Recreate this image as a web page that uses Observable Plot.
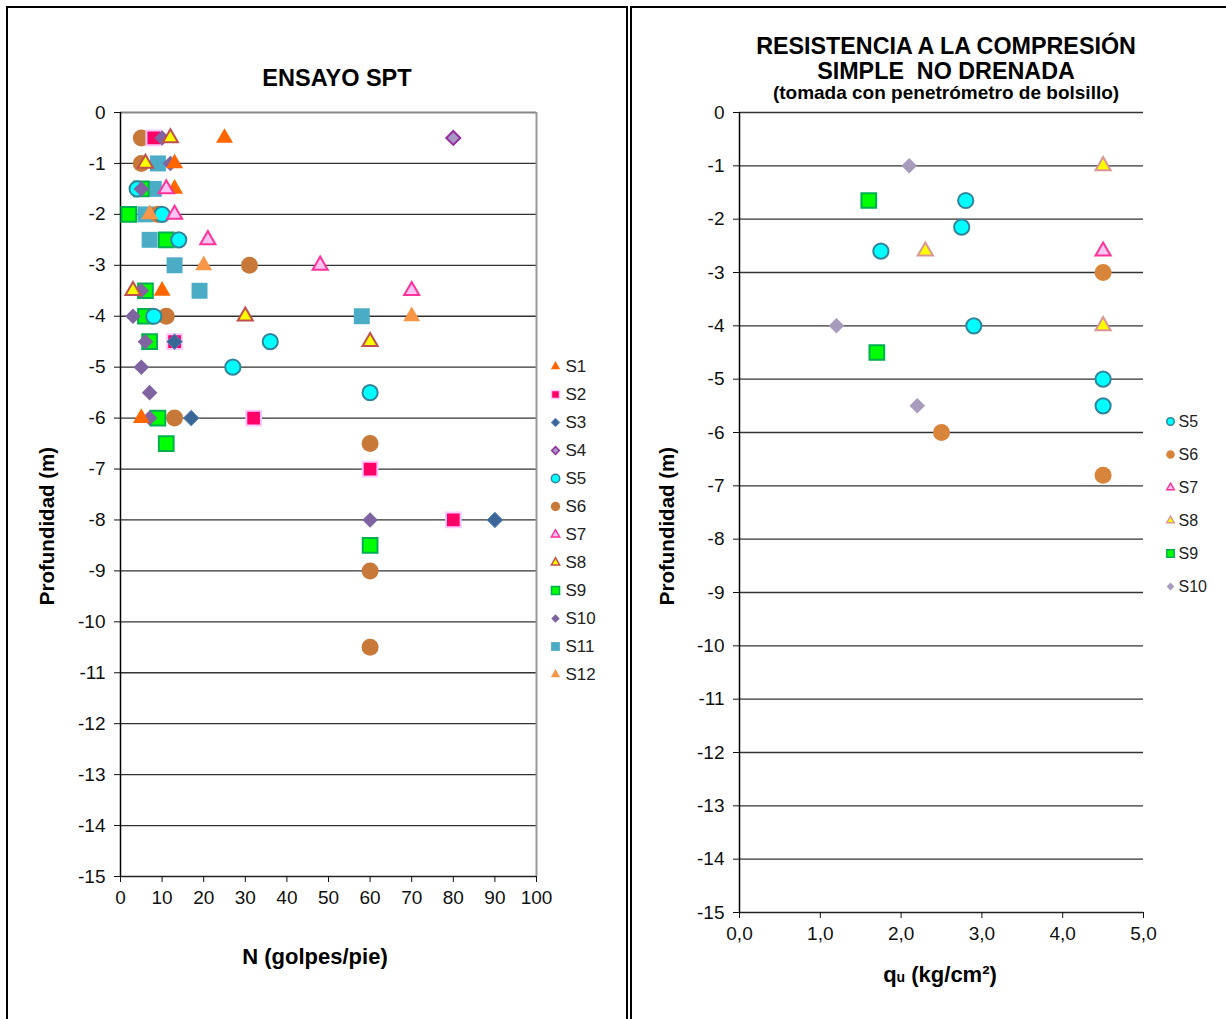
<!DOCTYPE html>
<html><head><meta charset="utf-8">
<script src="https://cdn.jsdelivr.net/npm/d3@7"></script>
<script src="https://cdn.jsdelivr.net/npm/@observablehq/plot@0.6"></script>
<style>
html,body{margin:0;padding:0;background:#fff;overflow:hidden;}
#page{position:relative;width:1226px;height:1019px;overflow:hidden;font-family:"Liberation Sans",Arial,sans-serif;color:#000;background:#fff;}
.box{position:absolute;border:2px solid #000;box-sizing:border-box;}
.t{position:absolute;font-weight:bold;text-align:center;white-space:pre;}
.holder{position:absolute;left:0;top:0;}
.holder svg{max-width:none !important;}
</style></head>
<body><div id="page">
<div class="box" style="left:6px;top:6px;width:622px;height:1100px;"></div>
<div class="box" style="left:630px;top:6px;width:700px;height:1100px;"></div>

<div class="holder" id="sptPlot"></div>
<div class="holder" id="quPlot" style="left:630px;"></div>
<div class="holder" id="sptLegend" style="left:545px;top:347px;"></div>
<div class="holder" id="quLegend" style="left:1160px;top:405px;"></div>

<div class="t" style="left:137px;top:66px;width:400px;font-size:23.5px;line-height:25px;">ENSAYO SPT</div>
<div class="t" style="left:646px;top:34px;width:600px;font-size:23.3px;line-height:25px;">RESISTENCIA A LA COMPRESIÓN</div>
<div class="t" style="left:646px;top:59px;width:600px;font-size:23.3px;line-height:25px;">SIMPLE  NO DRENADA</div>
<div class="t" style="left:646px;top:82px;width:600px;font-size:19px;line-height:22px;">(tomada con penetrómetro de bolsillo)</div>

<div class="t" style="left:115px;top:945px;width:400px;font-size:22px;line-height:24px;">N (golpes/pie)</div>
<div class="t" style="left:740px;top:963px;width:400px;font-size:22px;line-height:24px;">q<span style="font-size:14px;">u</span> (kg/cm²)</div>
<div class="t" style="left:-103px;top:514px;width:300px;font-size:20.5px;line-height:24px;transform:rotate(-90deg);">Profundidad (m)</div>
<div class="t" style="left:517px;top:514px;width:300px;font-size:20.5px;line-height:24px;transform:rotate(-90deg);">Profundidad (m)</div>
</div>
<script>
// ---------- DATA: Ensayo SPT, pairs [profundidad (m), N (golpes/pie)] ----------
const sptS1  = [[-0.5,25],[-1,13],[-1.5,13],[-3.5,10],[-6,5]];
const sptS2  = [[-0.5,8],[-4.5,13],[-6,32],[-7,60],[-8,80]];
const sptS3  = [[-4.5,13],[-6,17],[-8,90]];
const sptS4  = [[-0.5,80]];
const sptS5  = [[-1.5,4],[-2,10],[-2.5,14],[-4,8],[-4.5,36],[-5,27],[-5.5,60]];
const sptS6  = [[-0.5,5],[-1,5],[-2,9],[-3,31],[-4,11],[-6,13],[-6.5,60],[-9,60],[-10.5,60]];
const sptS7  = [[-1.5,11],[-2,13],[-2.5,21],[-3,48],[-3.5,70]];
const sptS8  = [[-0.5,12],[-1,6],[-3.5,3],[-4,30],[-4.5,60]];
const sptS9  = [[-1.5,5],[-2,2],[-2.5,11],[-3.5,6],[-4,6],[-4.5,7],[-6,9],[-6.5,11],[-8.5,60]];
const sptS10 = [[-0.5,10],[-1,12],[-1.5,5],[-3.5,5],[-4,3],[-4.5,6],[-5,5],[-5.5,7],[-6,7],[-8,60]];
const sptS11 = [[-1,9],[-1.5,8],[-2,6],[-2.5,7],[-3,13],[-3.5,19],[-4,58]];
const sptS12 = [[-2,7],[-3,20],[-4,70]];

// ---------- DATA: qu, pairs [qu (kg/cm2), profundidad (m)] ----------
const quS5  = [[2.8,-1.65],[2.75,-2.15],[1.75,-2.6],[2.9,-4],[4.5,-5],[4.5,-5.5]];
const quS6  = [[4.5,-3],[2.5,-6],[4.5,-6.8]];
const quS7  = [[4.5,-2.6]];
const quS8  = [[4.5,-1],[2.3,-2.6],[4.5,-4]];
const quS9  = [[1.6,-1.65],[1.7,-4.5]];
const quS10 = [[2.1,-1],[1.2,-4],[2.2,-5.5]];

// ---------- tick labels ----------
const depthTicks = [0,-1,-2,-3,-4,-5,-6,-7,-8,-9,-10,-11,-12,-13,-14,-15];
const nTicks = [0,10,20,30,40,50,60,70,80,90,100];
const quTicks = [0,1,2,3,4,5];

// ---------- styles ----------
const sptStyle = {
  S1:  {symbol:"triangle", fill:"#FF6600", stroke:"none",    sw:0, r:6.3},
  S2:  {symbol:"square",   fill:"#FF0066", stroke:"#FFC8FF", sw:2, r:8.3},
  S3:  {symbol:"diamond2", fill:"#3B6698", stroke:"#5A84B8", sw:1, r:7},
  S4:  {symbol:"diamond2", fill:"#A898C4", stroke:"#962E9E", sw:2, r:6.3},
  S5:  {symbol:"circle",   fill:"#00FFFF", stroke:"#31859C", sw:2, r:7.6},
  S6:  {symbol:"circle",   fill:"#C8793A", stroke:"none",    sw:0, r:8.5},
  S7:  {symbol:"triangle", fill:"#FFC4F2", stroke:"#FF3399", sw:2, r:5.6},
  S8:  {symbol:"triangle", fill:"#FFFF00", stroke:"#C0504D", sw:2, r:5.6},
  S9:  {symbol:"square",   fill:"#00FF00", stroke:"#00B050", sw:2, r:8.3},
  S10: {symbol:"diamond2", fill:"#8064A2", stroke:"none",    sw:0, r:7},
  S11: {symbol:"square",   fill:"#4BACC6", stroke:"none",    sw:0, r:9},
  S12: {symbol:"triangle", fill:"#F79646", stroke:"none",    sw:0, r:6.3}
};
const quStyle = {
  S5:  {symbol:"circle",   fill:"#00FFFF", stroke:"#31859C", sw:2, r:7.6},
  S6:  {symbol:"circle",   fill:"#D9843B", stroke:"none",    sw:0, r:8.5},
  S7:  {symbol:"triangle", fill:"#FFC8F2", stroke:"#FF3399", sw:2, r:5.6},
  S8:  {symbol:"triangle", fill:"#FFFF00", stroke:"#D99694", sw:2, r:5.6},
  S9:  {symbol:"square",   fill:"#00FF00", stroke:"#00B050", sw:2, r:8.3},
  S10: {symbol:"diamond2", fill:"#A99BBD", stroke:"none",    sw:0, r:7}
};

const sptSeries = [["S1",sptS1],["S2",sptS2],["S3",sptS3],["S4",sptS4],["S5",sptS5],["S6",sptS6],
  ["S7",sptS7],["S8",sptS8],["S9",sptS9],["S10",sptS10],["S11",sptS11],["S12",sptS12]];
const quSeries = [["S5",quS5],["S6",quS6],["S7",quS7],["S8",quS8],["S9",quS9],["S10",quS10]];

const sptData = sptSeries.flatMap(([s, pts]) => pts.map(([depth, n]) => ({s, depth, n})));
const quData = quSeries.flatMap(([s, pts]) => pts.map(([qu, depth]) => ({s, depth, qu})));

const font = '"Liberation Sans", Arial, sans-serif';
const baseStyle = {fontFamily: font, fontSize: "19px", background: "transparent", overflow: "visible", color: "#111"};

function dotOpts(style, extra) {
  return Object.assign({
    symbol: d => style[d.s].symbol,
    r: d => style[d.s].r,
    fill: d => style[d.s].fill,
    stroke: d => style[d.s].stroke,
    strokeWidth: d => style[d.s].sw
  }, extra);
}

// ---------- SPT chart ----------
const sptPlot = Plot.plot({
  width: 640, height: 1019,
  marginLeft: 120, marginRight: 104, marginTop: 112, marginBottom: 143,
  style: baseStyle,
  x: {domain: [nTicks[0], nTicks[nTicks.length-1]]},
  y: {domain: [depthTicks[depthTicks.length-1], depthTicks[0]]},
  r: {type: "identity"},
  marks: [
    Plot.ruleY(depthTicks.slice(1, -1), {stroke: "#333", strokeWidth: 1.3}),
    Plot.ruleY([depthTicks[0]], {stroke: "#888", strokeWidth: 2}),
    Plot.ruleX([nTicks[nTicks.length-1]], {stroke: "#999", strokeWidth: 2}),
    Plot.ruleX([nTicks[0]], {stroke: "#000", strokeWidth: 1.5}),
    Plot.ruleY([depthTicks[depthTicks.length-1]], {stroke: "#222", strokeWidth: 1.5}),
    Plot.axisY(depthTicks, {tickSize: 6, tickPadding: 9, tickFormat: d => String(d), label: null}),
    Plot.axisX(nTicks, {tickSize: 6, tickPadding: 8, tickFormat: d => String(d), label: null}),
    Plot.dot(sptData, dotOpts(sptStyle, {x: "n", y: "depth"}))
  ]
});
document.getElementById("sptPlot").appendChild(sptPlot);

// ---------- qu chart ----------
const quPlot = Plot.plot({
  width: 596, height: 1019,
  marginLeft: 109, marginRight: 83, marginTop: 112, marginBottom: 107,
  style: baseStyle,
  x: {domain: [quTicks[0], quTicks[quTicks.length-1]]},
  y: {domain: [depthTicks[depthTicks.length-1], depthTicks[0]]},
  r: {type: "identity"},
  marks: [
    Plot.ruleY(depthTicks.slice(0, -1), {stroke: "#333", strokeWidth: 1.3}),
    Plot.ruleX([quTicks[0]], {stroke: "#000", strokeWidth: 1.5}),
    Plot.ruleY([depthTicks[depthTicks.length-1]], {stroke: "#222", strokeWidth: 1.5}),
    Plot.axisY(depthTicks, {tickSize: 6, tickPadding: 9, tickFormat: d => String(d), label: null}),
    Plot.axisX(quTicks, {tickSize: 6, tickPadding: 8, tickFormat: d => d.toFixed(1).replace(".", ","), label: null}),
    Plot.dot(quData, dotOpts(quStyle, {x: "qu", y: "depth"}))
  ]
});
document.getElementById("quPlot").appendChild(quPlot);

// ---------- legends ----------
function legend(names, style, step, scale, fontSize, textDx) {
  const rows = names.map(s => ({s}));
  return Plot.plot({
    width: 80, height: (names.length - 1) * step + 28,
    margin: 0,
    style: Object.assign({}, baseStyle, {fontSize: fontSize + "px"}),
    y: {type: "point", domain: names, range: [14, 14 + (names.length - 1) * step], padding: 0, axis: null},
    r: {type: "identity"},
    marks: [
      Plot.dot(rows, {
        y: "s", frameAnchor: "left", dx: 10,
        symbol: d => style[d.s].symbol,
        r: d => style[d.s].r * scale,
        fill: d => style[d.s].fill,
        stroke: d => style[d.s].stroke,
        strokeWidth: d => Math.min(style[d.s].sw, 1.5)
      }),
      Plot.text(rows, {y: "s", text: "s", frameAnchor: "left", dx: textDx, textAnchor: "start", fill: "#222"})
    ]
  });
}
document.getElementById("sptLegend").appendChild(legend(sptSeries.map(d => d[0]), sptStyle, 28.9, 0.55, 17, 20));
document.getElementById("quLegend").appendChild(legend(quSeries.map(d => d[0]), quStyle, 33.7, 0.5, 16, 18));
</script>
</body></html>
